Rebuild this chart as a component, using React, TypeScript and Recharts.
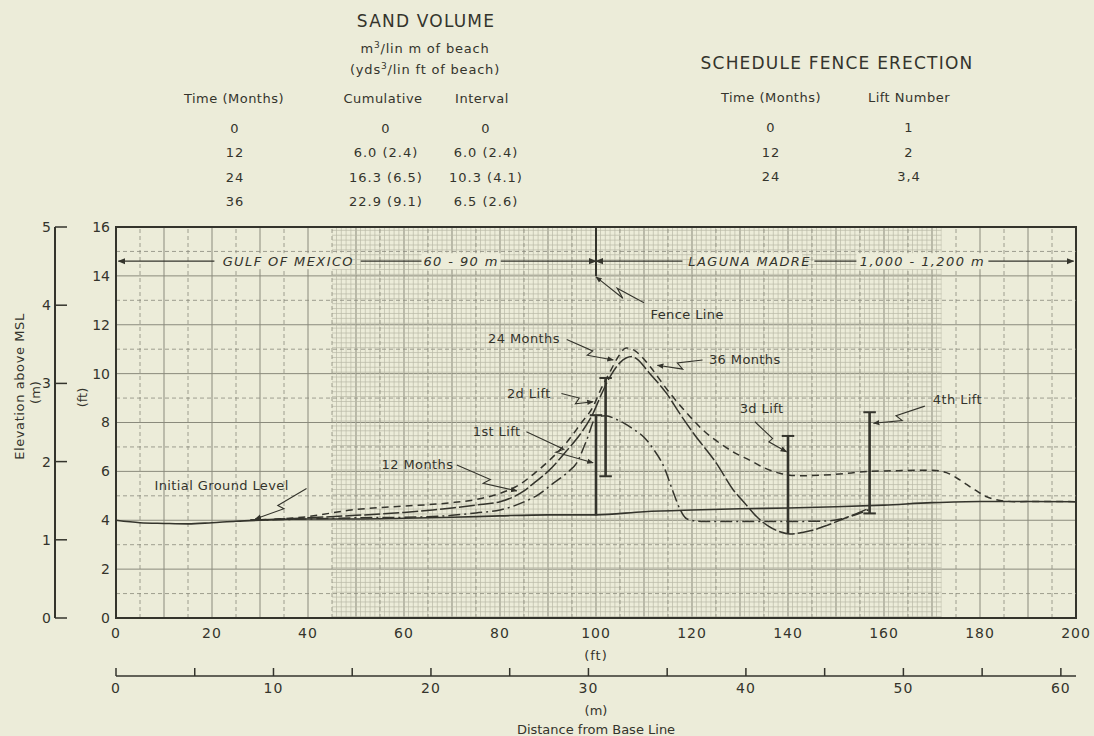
import React from "react";
import {
  ComposedChart,
  Line,
  XAxis,
  YAxis,
  CartesianGrid,
  ReferenceLine,
  ReferenceArea,
  ReferenceDot,
} from "recharts";

const INK = "#34342c";
const GRID = "#8a8a7c";
const PAPER = "#ececd9";
const FONT = "'DejaVu Sans', sans-serif";
const FT_PER_M = 3.2808;

// sand volume table
const sandMonths = ["0", "12", "24", "36"];
const sandCumulative = ["0", "6.0 (2.4)", "16.3 (6.5)", "22.9 (9.1)"];
const sandInterval = ["0", "6.0 (2.4)", "10.3 (4.1)", "6.5 (2.6)"];

// fence erection schedule
const fenceMonths = ["0", "12", "24"];
const fenceLifts = ["1", "2", "3,4"];

// axis ticks
const ftXTicks = [0, 10, 20, 30, 40, 50, 60, 70, 80, 90, 100, 110, 120, 130, 140, 150, 160, 170, 180, 190, 200];
const ftYTicks = [0, 2, 4, 6, 8, 10, 12, 14, 16];
const mXTicks = [0, 5, 10, 15, 20, 25, 30, 35, 40, 45, 50, 55, 60];
const mYTicks = [0, 1, 2, 3, 4, 5];
const minorX = [5, 15, 25, 35, 45, 55, 65, 75, 85, 95, 105, 115, 125, 135, 145, 155, 165, 175, 185, 195];
const minorY = [1, 3, 5, 7, 9, 11, 13, 15];

// profiles: distance from base line (ft) / elevation above MSL (ft)
const groundX = [0, 5, 10, 15, 20, 25, 30, 40, 50, 60, 70, 80, 90, 100, 110, 120, 130, 140, 150, 160, 170, 180, 190, 200];
const groundY = [4.0, 3.9, 3.87, 3.85, 3.9, 3.96, 4.0, 4.05, 4.05, 4.08, 4.12, 4.18, 4.22, 4.22, 4.35, 4.42, 4.47, 4.5, 4.55, 4.62, 4.72, 4.77, 4.77, 4.76];

const m12X = [28, 40, 50, 60, 70, 75, 80, 85, 88, 91, 94, 96, 98, 100, 102, 104, 106, 108, 110, 112, 114, 116, 117.5, 119, 122, 130, 140, 148, 152, 157];
const m12Y = [4.0, 4.05, 4.1, 4.12, 4.2, 4.3, 4.42, 4.75, 5.05, 5.5, 5.95, 6.35, 7.25, 8.2, 8.28, 8.15, 7.95, 7.7, 7.4, 6.9, 6.25, 5.2, 4.45, 4.05, 3.95, 3.95, 3.95, 3.97, 4.1, 4.45];

const m24X = [28, 40, 50, 60, 66, 70, 75, 80, 85, 87, 90, 94, 97, 99.4, 101, 103, 105, 107.5, 108.5, 111, 114.7, 117.5, 120.3, 125.1, 128.6, 131, 133.5, 136, 138.3, 140.4, 143, 145.3, 148, 150.8, 154, 157];
const m24Y = [4.0, 4.1, 4.2, 4.32, 4.42, 4.5, 4.62, 4.76, 5.2, 5.51, 6.0, 6.87, 7.6, 8.38, 9.1, 9.9, 10.45, 10.7, 10.6, 10.05, 9.19, 8.35, 7.56, 6.33, 5.24, 4.7, 4.14, 3.75, 3.53, 3.44, 3.5, 3.6, 3.78, 4.0, 4.25, 4.5];

const m36X = [28, 40, 49, 55, 60, 66, 70, 75, 80, 84, 87, 90, 94, 97, 99.4, 101, 103, 104.5, 106.3, 108, 109.5, 111.3, 115, 119.6, 122.5, 125.8, 129, 132, 135, 138.3, 142.5, 150, 157, 163, 170, 173, 175.8, 178.5, 181.4, 184.5, 187.6, 192, 200];
const m36Y = [4.0, 4.15, 4.42, 4.52, 4.58, 4.65, 4.72, 4.85, 5.1, 5.45, 5.89, 6.4, 7.21, 8.0, 8.65, 9.35, 10.1, 10.65, 11.05, 10.95, 10.7, 10.28, 9.3, 8.24, 7.65, 7.15, 6.75, 6.46, 6.15, 5.92, 5.82, 5.88, 6.0, 6.03, 6.05, 5.95, 5.65, 5.3, 4.96, 4.8, 4.76, 4.77, 4.76];

// fence lifts: station (ft), bottom and top elevation (ft)
const liftX = [100, 102, 140, 157];
const liftBottom = [4.2, 5.8, 3.44, 4.28];
const liftTop = [8.3, 9.82, 7.45, 8.42];
const liftBottomCap = [false, true, false, true];

// annotations
const noteText = ["GULF OF MEXICO", "60 - 90 m", "LAGUNA MADRE", "1,000 - 1,200 m", "Fence Line", "24 Months", "36 Months", "2d Lift", "1st Lift", "12 Months", "Initial Ground Level", "3d Lift", "4th Lift"];
const noteX = [35.9, 71.9, 132, 168, 119, 85, 131, 86, 79.3, 62.8, 22, 134.5, 175.3];
const noteY = [14.6, 14.6, 14.6, 14.6, 12.4, 11.44, 10.58, 9.19, 7.62, 6.29, 5.44, 8.58, 8.95];
const noteItalic = [true, true, true, true, false, false, false, false, false, false, false, false, false];

const leaderFrom = [[39.7, 5.3], [71, 6.26], [85.5, 7.62], [92.8, 9.19], [93.9, 11.4], [122.2, 10.56], [110, 12.9], [133.1, 8.03], [168.5, 8.67]];
const leaderTo = [[29, 4.05], [83.5, 5.2], [99.4, 6.35], [99.4, 8.85], [103.6, 10.56], [112.8, 10.34], [100, 13.96], [139.7, 6.8], [157.8, 7.97]];

// width arrows along the top of the grid
const bandY = 14.6;
const bandFrom = [0.5, 51, 79.5, 100, 145.5, 180.5];
const bandTo = [20.5, 64, 100, 118, 155.5, 199.5];
const bandStartArrow = [true, false, false, true, false, false];
const bandEndArrow = [false, false, true, false, false, true];

const pts = (xs: number[], ys: number[]) => xs.map((x, i) => ({ x, y: ys[i] }));

const zig = (a: number[], b: number[]) => {
  const at = (t: number) => ({ x: a[0] + (b[0] - a[0]) * t, y: a[1] + (b[1] - a[1]) * t });
  const p = at(0.56);
  const q = at(0.44);
  return [{ x: a[0], y: a[1] }, p, { x: q.x, y: q.y - 0.28 }, { x: b[0], y: b[1] }];
};

const Cell = ({ x, y, size = 13, spacing = 0.5, children }: any) => (
  <div
    style={{
      position: "absolute",
      left: x,
      top: y,
      transform: "translate(-50%, -50%)",
      fontSize: size,
      letterSpacing: spacing,
      whiteSpace: "nowrap",
      lineHeight: 1,
    }}
  >
    {children}
  </div>
);

export default function App() {
  const ground = pts(groundX, groundY);
  // chart-level rows also carry the metric station for the lower distance scale
  const stations = ground.map((p) => ({ ...p, m: p.x / FT_PER_M }));
  return (
    <div
      style={{
        position: "absolute",
        left: 0,
        top: 0,
        width: 1094,
        height: 736,
        background: PAPER,
        fontFamily: FONT,
        color: INK,
        overflow: "hidden",
      }}
    >
      <Cell x={426} y={21} size={17} spacing={1.2}>SAND VOLUME</Cell>
      <Cell x={425} y={48} size={13} spacing={0.8}>
        m<sup style={{ fontSize: 9 }}>3</sup>/lin m of beach
      </Cell>
      <Cell x={425} y={69} size={13} spacing={0.8}>
        (yds<sup style={{ fontSize: 9 }}>3</sup>/lin ft of beach)
      </Cell>
      <Cell x={234} y={98}>Time (Months)</Cell>
      <Cell x={383} y={98}>Cumulative</Cell>
      <Cell x={482} y={98}>Interval</Cell>
      {sandMonths.map((m, i) => (
        <React.Fragment key={m}>
          <Cell x={235} y={128 + i * 24.3} spacing={1}>{m}</Cell>
          <Cell x={386} y={128 + i * 24.3} spacing={1}>{sandCumulative[i]}</Cell>
          <Cell x={486} y={128 + i * 24.3} spacing={1}>{sandInterval[i]}</Cell>
        </React.Fragment>
      ))}

      <Cell x={837} y={63} size={17} spacing={1.2}>SCHEDULE FENCE ERECTION</Cell>
      <Cell x={771} y={97}>Time (Months)</Cell>
      <Cell x={909} y={97}>Lift Number</Cell>
      {fenceMonths.map((m, i) => (
        <React.Fragment key={m}>
          <Cell x={771} y={127 + i * 24.5} spacing={1}>{m}</Cell>
          <Cell x={909} y={127 + i * 24.5} spacing={1}>{fenceLifts[i]}</Cell>
        </React.Fragment>
      ))}

      <div style={{ position: "absolute", left: 0, top: 0 }}>
        <ComposedChart width={1094} height={736} data={stations} margin={{ top: 227, right: 18, bottom: 0, left: 0 }}>
          <defs>
            <pattern id="mesh" patternUnits="userSpaceOnUse" width={4.8} height={4.89}>
              <path d="M0 0.5 H4.8 M0.5 0 V4.89" stroke="#b8b8a6" strokeWidth={0.7} />
            </pattern>
            <marker id="arr" viewBox="0 0 10 10" refX={9} refY={5} markerWidth={6} markerHeight={6} orient="auto-start-reverse">
              <path d="M0,1 L10,5 L0,9 z" fill={INK} />
            </marker>
          </defs>

          <ReferenceArea xAxisId="ft" yAxisId="ft" x1={45} x2={172} y1={0} y2={16} fill="url(#mesh)" fillOpacity={1} stroke="none" />
          <CartesianGrid xAxisId="ft" yAxisId="ft" stroke={GRID} strokeWidth={1} />
          {minorX.map((x) => (
            <ReferenceLine key={"mx" + x} xAxisId="ft" yAxisId="ft" x={x} stroke={GRID} strokeWidth={0.8} strokeDasharray="4 3" />
          ))}
          {minorY.map((y) => (
            <ReferenceLine key={"my" + y} xAxisId="ft" yAxisId="ft" y={y} stroke={GRID} strokeWidth={0.8} strokeDasharray="4 3" />
          ))}

          <XAxis
            xAxisId="ft"
            dataKey="x"
            type="number"
            domain={[0, 200]}
            ticks={ftXTicks}
            allowDataOverflow
            height={58}
            tickLine={false}
            tickSize={0}
            tickMargin={10}
            axisLine={{ stroke: INK, strokeWidth: 2 }}
            tick={{ fill: INK, fontSize: 14, letterSpacing: 1 }}
            tickFormatter={(v: number) => (v % 20 === 0 ? String(v) : "")}
            label={{
              content: (p: any) => (
                <text x={p.viewBox.x + p.viewBox.width / 2} y={p.viewBox.y + 42} textAnchor="middle" fontSize={13} fill={INK} letterSpacing={1}>
                  (ft)
                </text>
              ),
            }}
          />
          <XAxis
            xAxisId="m"
            dataKey="m"
            type="number"
            domain={[0, 200 / FT_PER_M]}
            ticks={mXTicks}
            allowDataOverflow
            interval={0}
            height={60}
            tickSize={-8}
            tickMargin={15}
            axisLine={{ stroke: INK, strokeWidth: 1.5 }}
            tickLine={{ stroke: INK, strokeWidth: 1.5 }}
            tick={{ fill: INK, fontSize: 14, letterSpacing: 1 }}
            tickFormatter={(v: number) => (v % 10 === 0 ? String(v) : "")}
            label={{
              content: (p: any) => (
                <g fill={INK} fontSize={13} textAnchor="middle">
                  <text x={p.viewBox.x + p.viewBox.width / 2} y={p.viewBox.y + 39}>(m)</text>
                  <text x={p.viewBox.x + p.viewBox.width / 2} y={p.viewBox.y + 58}>Distance from Base Line</text>
                </g>
              ),
            }}
          />
          <YAxis
            yAxisId="ft"
            type="number"
            domain={[0, 16]}
            ticks={ftYTicks}
            allowDataOverflow
            width={61}
            tickLine={false}
            tickSize={0}
            tickMargin={6}
            axisLine={{ stroke: INK, strokeWidth: 2 }}
            tick={{ fill: INK, fontSize: 14 }}
            label={{
              content: (p: any) => {
                const cx = p.viewBox.x + 27;
                const cy = p.viewBox.y + p.viewBox.height / 2 - 25;
                return (
                  <text x={cx} y={cy} transform={`rotate(-90 ${cx} ${cy})`} textAnchor="middle" dominantBaseline="central" fontSize={13} fill={INK}>
                    (ft)
                  </text>
                );
              },
            }}
          />
          <YAxis
            yAxisId="m"
            type="number"
            domain={[0, 5]}
            ticks={mYTicks}
            allowDataOverflow
            interval={0}
            width={55}
            tickSize={-12}
            tickMargin={16}
            axisLine={{ stroke: INK, strokeWidth: 2 }}
            tickLine={{ stroke: INK, strokeWidth: 1.5 }}
            tick={{ fill: INK, fontSize: 14 }}
            label={{
              content: (p: any) => {
                const cy = p.viewBox.y + p.viewBox.height / 2 - 36;
                const x1 = p.viewBox.x + 19;
                const x2 = p.viewBox.x + 35;
                return (
                  <g fill={INK} fontSize={13} textAnchor="middle" dominantBaseline="central">
                    <text x={x1} y={cy} transform={`rotate(-90 ${x1} ${cy})`} letterSpacing={0.6}>Elevation above MSL</text>
                    <text x={x2} y={cy + 6} transform={`rotate(-90 ${x2} ${cy + 6})`}>(m)</text>
                  </g>
                );
              },
            }}
          />

          <ReferenceArea xAxisId="ft" yAxisId="ft" x1={0} x2={200} y1={0} y2={16} fill="none" stroke={INK} strokeWidth={2} />

          {bandFrom.map((x0, i) => (
            <Line
              key={"band" + i}
              xAxisId="ft"
              yAxisId="ft"
              data={[{ x: x0, y: bandY }, { x: bandTo[i], y: bandY }]}
              dataKey="y"
              type="linear"
              stroke={INK}
              strokeWidth={1.3}
              dot={false}
              activeDot={false}
              markerStart={bandStartArrow[i] ? "url(#arr)" : undefined}
              markerEnd={bandEndArrow[i] ? "url(#arr)" : undefined}
              isAnimationActive={false}
            />
          ))}
          <ReferenceLine xAxisId="ft" yAxisId="ft" segment={[{ x: 100, y: 14 }, { x: 100, y: 16 }]} stroke={INK} strokeWidth={2} />

          <Line xAxisId="ft" yAxisId="ft" data={ground} dataKey="y" type="monotone" stroke={INK} strokeWidth={1.6} dot={false} activeDot={false} isAnimationActive={false} />
          <Line xAxisId="ft" yAxisId="ft" data={pts(m12X, m12Y)} dataKey="y" type="monotone" stroke={INK} strokeWidth={1.5} strokeDasharray="12 4 2 4" dot={false} activeDot={false} isAnimationActive={false} />
          <Line xAxisId="ft" yAxisId="ft" data={pts(m24X, m24Y)} dataKey="y" type="monotone" stroke={INK} strokeWidth={1.5} strokeDasharray="16 3" dot={false} activeDot={false} isAnimationActive={false} />
          <Line xAxisId="ft" yAxisId="ft" data={pts(m36X, m36Y)} dataKey="y" type="monotone" stroke={INK} strokeWidth={1.5} strokeDasharray="7 5" dot={false} activeDot={false} isAnimationActive={false} />

          {liftX.map((x, i) => (
            <React.Fragment key={"lift" + i}>
              <ReferenceLine xAxisId="ft" yAxisId="ft" segment={[{ x, y: liftBottom[i] }, { x, y: liftTop[i] }]} stroke={INK} strokeWidth={2.6} />
              <ReferenceLine xAxisId="ft" yAxisId="ft" segment={[{ x: x - 1.3, y: liftTop[i] }, { x: x + 1.3, y: liftTop[i] }]} stroke={INK} strokeWidth={2} />
              {liftBottomCap[i] && (
                <ReferenceLine xAxisId="ft" yAxisId="ft" segment={[{ x: x - 1.3, y: liftBottom[i] }, { x: x + 1.3, y: liftBottom[i] }]} stroke={INK} strokeWidth={2} />
              )}
            </React.Fragment>
          ))}

          {leaderFrom.map((a, i) => (
            <Line
              key={"lead" + i}
              xAxisId="ft"
              yAxisId="ft"
              data={zig(a, leaderTo[i])}
              dataKey="y"
              type="linear"
              stroke={INK}
              strokeWidth={1.1}
              dot={false}
              activeDot={false}
              markerEnd="url(#arr)"
              isAnimationActive={false}
            />
          ))}

          {noteText.map((t, i) => (
            <ReferenceDot
              key={"note" + i}
              xAxisId="ft"
              yAxisId="ft"
              x={noteX[i]}
              y={noteY[i]}
              r={0}
              fill="none"
              stroke="none"
              label={{
                content: (p: any) => (
                  <g>
                    <rect
                      x={p.viewBox.x - t.length * 4.4}
                      y={p.viewBox.y - 8}
                      width={t.length * 8.8}
                      height={16}
                      fill={PAPER}
                      opacity={noteItalic[i] ? 1 : 0}
                    />
                    <text
                      x={p.viewBox.x}
                      y={p.viewBox.y}
                      textAnchor="middle"
                      dominantBaseline="central"
                      fontSize={13}
                      fontStyle={noteItalic[i] ? "italic" : "normal"}
                      letterSpacing={noteItalic[i] ? 1.4 : 0.4}
                      fill={INK}
                    >
                      {t}
                    </text>
                  </g>
                ),
              }}
            />
          ))}
        </ComposedChart>
      </div>
    </div>
  );
}
